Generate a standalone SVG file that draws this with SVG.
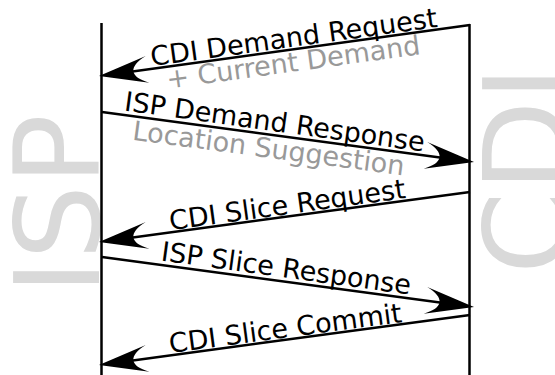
<svg xmlns="http://www.w3.org/2000/svg" width="555" height="375" viewBox="0 0 555 375">
<style>
.big{font-family:"DejaVu Sans",sans-serif;font-size:118px;fill:#d9d9d9}
.life{stroke:#000;stroke-width:2.5;fill:none}
.msg{stroke:#000;stroke-width:2.5;fill:none;marker-end:url(#ah)}
.lbl{font-family:"DejaVu Sans",sans-serif;font-size:27px;fill:#000;text-anchor:middle}
.sub{fill:#999999}
</style>
<defs>
<marker id="ah" markerUnits="userSpaceOnUse" orient="auto" refX="0" refY="0" markerWidth="60" markerHeight="40" overflow="visible">
<path d="M10,0 L-39,-13.5 C-20,-5 -20,5 -39,13.5 Z" fill="#000"/>
</marker>
</defs>
<rect width="555" height="375" fill="#fff"/>
<g id="isp">
<text class="big" transform="translate(99,294.6) rotate(-90)">ISP</text>
<line class="life" x1="101.5" y1="23" x2="101.5" y2="375"/>
</g>
<g id="cdi">
<text class="big" transform="translate(568,274) rotate(-90)">CDI</text>
<line class="life" x1="469.5" y1="24" x2="469.5" y2="375"/>
</g>
<g id="connectors">
<path class="msg" d="M470,25 L108.9,74.64"/>
<path class="msg" d="M102,112 L464.1,160.67"/>
<path class="msg" d="M470,192 L108.9,240.66"/>
<path class="msg" d="M102,257 L464.1,305.67"/>
<path class="msg" d="M470,315 L108.9,363.66"/>
<text class="lbl" transform="translate(295,46.5) rotate(-7.8)">CDI Demand Request</text>
<text class="lbl sub" transform="translate(294.5,71.5) rotate(-7.8)">+ Current Demand</text>
<text class="lbl" transform="translate(273.5,131) rotate(7.8)">ISP Demand Response</text>
<text class="lbl sub" transform="translate(267.5,157.5) rotate(7.5)">Location Suggestion</text>
<text class="lbl" transform="translate(288.5,214) rotate(-7.8)">CDI Slice Request</text>
<text class="lbl" transform="translate(285,277.5) rotate(7.8)">ISP Slice Response</text>
<text class="lbl" transform="translate(286.5,337.5) rotate(-7.6)">CDI Slice Commit</text>
</g>
</svg>
